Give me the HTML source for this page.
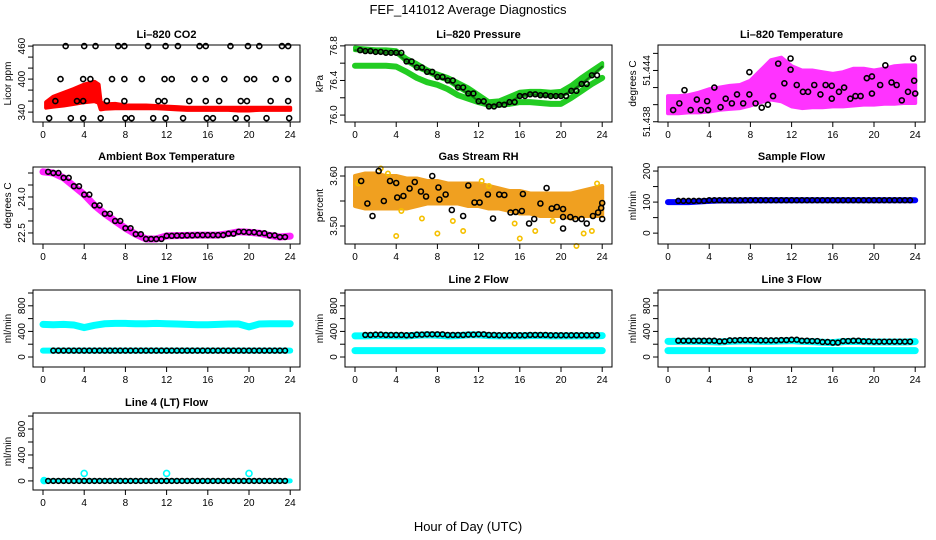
<!DOCTYPE html>
<html><head><meta charset="utf-8">
<style>
html,body{margin:0;padding:0;background:#fff;}
svg{display:block;font-family:"Liberation Sans",sans-serif;}
</style></head>
<body>
<svg id="chart" width="936" height="540" viewBox="0 0 936 540" xmlns="http://www.w3.org/2000/svg">
<text x="468" y="14" text-anchor="middle" font-size="13">FEF_141012  Average Diagnostics</text>
<text x="468" y="531" text-anchor="middle" font-size="13">Hour of Day (UTC)</text>
</svg>
<script>
// ---------- data ----------
const hours = [0,1,2,3,4,5,6,7,8,9,10,11,12,13,14,15,16,17,18,19,20,21,22,23,24];
const xTicks = [0,4,8,12,16,20,24];

// CO2
const co2RedHours = [0.3,1,2,3,4,5,5.4,5.6,6,7,8,9,10,11,12,13,14,15,16,17,18,19,20,21,22,23,24];
const co2RedLo = [348,350,352,355,358,360,357,345,346,347,347,347,347,347,346,345,344,344,344,344,344,343,343,344,344,344,344];
const co2RedHi = [358,368,375,382,390,395,390,358,354,355,352,352,352,351,350,349,348,348,348,348,348,348,348,348,348,348,348];
const co2BlackHours = [2.2,4.0,5.1,7.3,7.9,10.2,11.9,13.1,15.2,15.8,18.2,19.9,21.0,23.2,23.8,
  1.7,3.9,4.6,6.7,7.9,9.6,11.8,12.5,14.7,15.8,17.6,19.8,20.5,22.6,23.8,
  1.2,3.3,3.9,6.2,7.9,11.2,11.8,14.2,15.8,17.1,19.2,19.8,22.1,23.8,
  0.6,2.7,3.9,5.6,8.0,8.6,10.7,11.9,13.6,15.9,16.5,18.7,19.8,21.7,23.9];
const co2BlackVals = [460,460,460,460,460,460,460,460,460,460,460,460,460,460,460,
  400,400,400,400,400,400,400,400,400,400,400,400,400,400,400,
  360,360,360,360,360,360,360,360,360,360,360,360,360,360,
  329,329,329,329,329,329,329,329,329,329,329,329,329,329,329];

// Pressure
const pressHi = [76.78,76.77,76.76,76.76,76.75,76.66,76.6,76.53,76.48,76.44,76.38,76.32,76.24,76.16,76.17,76.22,76.27,76.28,76.28,76.27,76.28,76.35,76.44,76.52,76.6];
const pressLo = [76.57,76.57,76.57,76.57,76.56,76.5,76.43,76.38,76.35,76.3,76.23,76.19,76.15,76.12,76.12,76.13,76.15,76.15,76.14,76.13,76.13,76.2,76.28,76.36,76.43];
const pressBlack = [76.75,76.74,76.73,76.72,76.72,76.62,76.55,76.5,76.44,76.4,76.32,76.25,76.16,76.1,76.12,76.15,76.22,76.24,76.23,76.22,76.22,76.28,76.36,76.46,76.56];

// Li-820 temperature
const tempLo = [51.4390,51.4390,51.4391,51.4391,51.4392,51.4394,51.4395,51.4396,51.4399,51.4403,51.4406,51.4404,51.4398,51.4396,51.4397,51.4397,51.4398,51.4398,51.4399,51.4400,51.4400,51.4401,51.4401,51.4402,51.4402];
const tempHi = [51.4410,51.4410,51.4411,51.4414,51.4418,51.4420,51.4422,51.4423,51.4428,51.4440,51.4452,51.4455,51.4445,51.4440,51.4440,51.4438,51.4436,51.4438,51.4442,51.4442,51.4440,51.4442,51.4445,51.4446,51.4446];
const tempBlackHours = [0.5,1.1,1.6,2.2,2.8,3.2,3.8,3.9,4.5,5.1,5.6,6.2,6.7,7.3,7.9,7.9,8.5,9.1,9.7,10.2,10.7,11.3,11.9,11.9,12.5,13.1,13.6,14.2,14.8,15.3,15.9,15.9,16.6,17.1,17.7,18.2,18.7,19.3,19.8,19.8,20.6,21.1,21.7,22.2,22.7,23.3,23.8,23.9,24];
const tempBlackVals = [51.43937,51.44015,51.4417,51.43937,51.4406,51.43937,51.4404,51.43937,51.4420,51.4397,51.4407,51.44015,51.4412,51.44015,51.4438,51.4412,51.44015,51.43965,51.4400,51.4410,51.4448,51.4425,51.4454,51.4441,51.4423,51.4415,51.4415,51.4423,51.4412,51.4423,51.4422,51.4407,51.4415,51.4420,51.4407,51.4410,51.4410,51.4431,51.4433,51.4413,51.4423,51.4446,51.4426,51.4423,51.4405,51.4415,51.4454,51.4428,51.4413];

// Ambient box temperature
const ambBand = [25.05,25.0,24.8,24.45,24.1,23.65,23.3,23.0,22.7,22.45,22.25,22.25,22.38,22.39,22.4,22.41,22.41,22.41,22.47,22.55,22.53,22.49,22.4,22.33,22.37];

// Gas stream RH
const rhLo = [3.54,3.535,3.535,3.535,3.535,3.535,3.54,3.545,3.545,3.545,3.545,3.54,3.54,3.535,3.535,3.53,3.525,3.525,3.52,3.52,3.52,3.515,3.52,3.52,3.52];
const rhHi = [3.60,3.605,3.605,3.60,3.60,3.595,3.595,3.59,3.59,3.585,3.585,3.585,3.585,3.58,3.575,3.57,3.57,3.565,3.565,3.565,3.565,3.565,3.57,3.575,3.58];
const rhOutHours = [0.3,2.5,3.2,4.0,4.5,6.5,8.0,9.5,10.5,12.3,13.0,15.5,16.0,17.5,19.2,21.5,22.2,23.0,23.5];
const rhOutVals = [3.585,3.615,3.605,3.48,3.53,3.515,3.485,3.51,3.49,3.59,3.58,3.505,3.475,3.49,3.51,3.46,3.485,3.49,3.585];
const rhBlackHours = [0.6,1.2,1.7,2.3,2.8,3.4,4.0,4.1,4.7,5.3,5.8,6.4,6.9,7.5,8.1,8.2,8.8,9.4,10.5,11.0,11.6,12.1,12.9,13.4,14.0,14.5,15.1,15.6,16.2,16.3,16.9,17.4,18.0,18.6,19.1,19.6,20.2,20.2,20.2,20.9,21.4,22.0,22.5,23.1,23.6,24,24,23.9];
const rhBlackVals = [3.59,3.545,3.52,3.61,3.55,3.59,3.586,3.557,3.56,3.575,3.588,3.569,3.559,3.60,3.577,3.553,3.563,3.532,3.52,3.581,3.547,3.547,3.563,3.515,3.563,3.562,3.527,3.528,3.53,3.564,3.505,3.514,3.545,3.576,3.535,3.538,3.534,3.518,3.495,3.518,3.514,3.514,3.505,3.52,3.527,3.546,3.514,3.536];

// Sample flow
const sampleBlue = [100,100,100,102,104,105,105,105,106,106,106,106,106,106,106,106,106,106,106,106,106,106,106,106,106];
const sampleBlack = [104,104,104,104,106,106,106,106,106,106,106,106,106,106,106,106,106,106,106,106,106,106,106,106,106];

// Line flows
const line1Hi = [510,505,510,500,460,495,520,525,525,520,520,525,520,515,510,505,505,510,515,515,470,515,520,520,520];
const line1Lo = [100,100,100,100,100,100,100,100,100,100,100,100,100,100,100,100,100,100,100,100,100,100,100,100,100];
const line1Black = [100,100,100,100,100,100,100,100,100,100,100,100,100,100,100,100,100,100,100,100,100,100,100,100,100];
const line2Cyan = [330,330,335,335,330,330,340,345,340,330,335,345,345,335,330,330,330,335,335,330,330,330,330,330,335];
const line2Lo = [100,100,100,100,100,100,100,100,100,100,100,100,100,100,100,100,100,100,100,100,100,100,100,100,100];
const line2Black = [340,345,350,345,345,340,350,355,355,345,345,350,355,345,340,340,340,345,345,340,340,340,340,340,345];
const line3Cyan = [245,245,245,245,240,235,245,250,250,245,245,250,255,245,240,230,225,240,245,240,235,235,235,235,240];
const line3Lo = [100,100,100,100,100,100,100,100,100,100,100,100,100,100,100,100,100,100,100,100,100,100,100,100,100];
const line3Black = [255,255,255,255,255,245,260,265,265,260,260,265,270,255,250,235,225,250,255,245,240,240,240,240,250];
const line4Cyan = [0,0,0,0,0,0,0,0,0,0,0,0,0,0,0,0,0,0,0,0,0,0,0,0,0];
const line4Black = [0,0,0,0,0,0,0,0,0,0,0,0,0,0,0,0,0,0,0,0,0,0,0,0,0];
const line4SpikeHours = [0.1,4,12,20];
const line4SpikeVals = [5,115,115,115];

// ---------- drawing ----------
const NS = 'http://www.w3.org/2000/svg';
const svg = document.getElementById('chart');
const colX0 = [43, 355, 668];
const rowTop = [45, 167, 290, 413];
const PXH = 10.3, BOXH = 77;

function mk(tag, parent){ const e = document.createElementNS(NS, tag); parent.appendChild(e); return e; }

function panel(name, col, row, title, ylab, ylim, yTicks, yLabels, fmt){
  const g = mk('g', svg);
  
  
  const x0 = colX0[col], top = rowTop[row], bot = top + BOXH;
  const left = x0 - 10, right = x0 + 257;
  const sx = h => x0 + h * PXH;
  const sy = v => bot - (v - ylim[0]) / (ylim[1] - ylim[0]) * BOXH;
  const plot = mk('g', g);
  
  
  const box = mk('rect', g);
  
  
  box.setAttribute('x', left); box.setAttribute('y', top);
  box.setAttribute('width', right - left); box.setAttribute('height', BOXH);
  box.setAttribute('fill', 'none'); box.setAttribute('stroke', '#000'); box.setAttribute('stroke-width', '1');
  const t = mk('text', g);
  
  
  t.setAttribute('x', (left + right) / 2); t.setAttribute('y', top - 7);
  t.setAttribute('text-anchor', 'middle'); t.setAttribute('font-size', '11'); t.setAttribute('font-weight', 'bold');
  t.textContent = title;
  // x axis
  const xa = mk('g', g);
  
  
  xTicks.forEach(h => {
    const l = mk('line', xa);
    l.setAttribute('x1', sx(h)); l.setAttribute('x2', sx(h));
    l.setAttribute('y1', bot); l.setAttribute('y2', bot + 5); l.setAttribute('stroke', '#000');
    const tl = mk('text', xa);
    
    
    tl.setAttribute('x', sx(h)); tl.setAttribute('y', bot + 16);
    tl.setAttribute('text-anchor', 'middle'); tl.setAttribute('font-size', '10');
    tl.textContent = h;
  });
  // y axis
  const ya = mk('g', g);
  
  
  yTicks.forEach(v => {
    const l = mk('line', ya);
    l.setAttribute('x1', left); l.setAttribute('x2', left - 5);
    l.setAttribute('y1', sy(v)); l.setAttribute('y2', sy(v)); l.setAttribute('stroke', '#000');
  });
  yLabels.forEach(v => {
    const tl = mk('text', ya);
    
    
    const xx = left - 8, yy = sy(v);
    tl.setAttribute('transform', `translate(${xx},${yy}) rotate(-90)`);
    tl.setAttribute('text-anchor', 'middle'); tl.setAttribute('font-size', '10');
    tl.textContent = fmt(v);
  });
  const yt = mk('text', g);
  
  
  yt.setAttribute('transform', `translate(${left - 22},${(top + bot) / 2}) rotate(-90)`);
  yt.setAttribute('text-anchor', 'middle'); yt.setAttribute('font-size', '10');
  yt.textContent = ylab;
  return {plot, sx, sy};
}

function band(p, hs, lo, hi, color, nm, op){
  const e = mk('polygon', p.plot);
  
  
  const pts = hs.map((h, i) => p.sx(h) + ',' + p.sy(hi[i]));
  for (let i = hs.length - 1; i >= 0; i--) pts.push(p.sx(hs[i]) + ',' + p.sy(lo[i]));
  e.setAttribute('points', pts.join(' '));
  e.setAttribute('fill', color); e.setAttribute('stroke', color); e.setAttribute('stroke-width', '4');
  e.setAttribute('stroke-linejoin', 'round');
  if (op) e.setAttribute('opacity', op);
}
function thick(p, hs, vals, color, w, nm){
  const e = mk('polyline', p.plot);
  
  
  e.setAttribute('points', hs.map((h, i) => p.sx(h) + ',' + p.sy(vals[i])).join(' '));
  e.setAttribute('fill', 'none'); e.setAttribute('stroke', color); e.setAttribute('stroke-width', w);
  e.setAttribute('stroke-linejoin', 'round'); e.setAttribute('stroke-linecap', 'round');
}
function pts(p, hs, vals, color, nm, r){
  hs.forEach((h, i) => {
    const c = mk('circle', p.plot);
    
    
    c.setAttribute('cx', p.sx(h)); c.setAttribute('cy', p.sy(vals[i]));
    c.setAttribute('r', r || 2.5); c.setAttribute('fill', 'none');
    c.setAttribute('stroke', color); c.setAttribute('stroke-width', '1.6');
  });
}
// half-hourly black markers from hourly arrays
function halfPts(p, vals, color, nm, start){
  const hs = [], vs = [];
  for (let h = start; h <= 23.95; h += 0.5) { hs.push(h); vs.push(vals[Math.floor(h)]); }
  pts(p, hs, vs, color, nm, 2.4);
}
const f0 = v => String(v), f1 = v => v.toFixed(1), f2 = v => v.toFixed(2), f3 = v => v.toFixed(3);

// CO2
let p = panel('co2-panel', 0, 0, 'Li\u2013820 CO2', 'Licor ppm', [322, 462], [340,360,380,400,420,440,460], [340,400,460], f0);
band(p, co2RedHours, co2RedLo, co2RedHi, '#ff0000', 'co2-red-series');
pts(p, co2BlackHours, co2BlackVals, '#000', 'co2-black-point');

// Pressure
p = panel('pressure-panel', 1, 0, 'Li\u2013820 Pressure', 'kPa', [75.92, 76.81], [76.0,76.2,76.4,76.6,76.8], [76.0,76.4,76.8], f1);
thick(p, hours, pressLo, '#22cc22', 6, 'pressure-green-low');
band(p, hours, pressBlack, pressHi, '#22cc22', 'pressure-green-high');
thick(p, hours, pressBlack, '#117711', 2, 'pressure-green-dark');
halfPts(p, pressBlack, '#000', 'pressure-black-point', 0.5);

// Li temperature
p = panel('li-temp-panel', 2, 0, 'Li\u2013820 Temperature', 'degrees C', [51.43797, 51.44698], [51.438,51.440,51.442,51.444,51.446], [51.438,51.444], f3);
band(p, hours, tempLo, tempHi, '#ff33ff', 'li-temp-magenta-series');
pts(p, tempBlackHours, tempBlackVals, '#000', 'li-temp-black-point');

// Ambient
p = panel('ambient-panel', 0, 1, 'Ambient Box Temperature', 'degrees C', [22.04, 25.25], [22.5,23.0,23.5,24.0,24.5,25.0], [22.5,24.0], f1);
thick(p, hours, ambBand, '#ff22ff', 7, 'ambient-magenta-series');
halfPts(p, ambBand, '#000', 'ambient-black-point', 0.5);

// RH
p = panel('rh-panel', 1, 1, 'Gas Stream RH', 'percent', [3.464, 3.618], [3.50,3.55,3.60], [3.50,3.60], f2);
band(p, hours, rhLo, rhHi, '#f0a020', 'rh-orange-series');
band(p, hours, rhLo, rhHi, 'none', 'rh-yellow-outline');
pts(p, rhOutHours, rhOutVals, '#f5c000', 'rh-outlier-point', 2.2);
pts(p, rhBlackHours, rhBlackVals, '#000', 'rh-black-point');

// Sample flow
p = panel('sample-flow-panel', 2, 1, 'Sample Flow', 'ml/min', [-35, 213], [0,50,100,150,200], [0,100,200], f0);
thick(p, hours, sampleBlue, '#0000ff', 6, 'sample-flow-blue-series');
halfPts(p, sampleBlack, '#000', 'sample-flow-black-point', 1.0);

const flowTicks = [0,200,400,600,800,1000], flowLabels = [0,400,800];
// Line 1
p = panel('line1-panel', 0, 2, 'Line 1 Flow', 'ml/min', [-156, 1047], flowTicks, flowLabels, f0);
thick(p, hours, line1Hi, '#00ffff', 7, 'line1-cyan-high');
thick(p, hours, line1Lo, '#00ffff', 6, 'line1-cyan-low');
halfPts(p, line1Black, '#000', 'line1-black-point', 1.0);
// Line 2
p = panel('line2-panel', 1, 2, 'Line 2 Flow', 'ml/min', [-156, 1047], flowTicks, flowLabels, f0);
thick(p, hours, line2Cyan, '#00ffff', 7, 'line2-cyan-high');
thick(p, hours, line2Lo, '#00ffff', 7, 'line2-cyan-low');
halfPts(p, line2Black, '#000', 'line2-black-point', 1.0);
// Line 3
p = panel('line3-panel', 2, 2, 'Line 3 Flow', 'ml/min', [-156, 1047], flowTicks, flowLabels, f0);
thick(p, hours, line3Cyan, '#00ffff', 7, 'line3-cyan-high');
thick(p, hours, line3Lo, '#00ffff', 7, 'line3-cyan-low');
halfPts(p, line3Black, '#000', 'line3-black-point', 1.0);
// Line 4
p = panel('line4-panel', 0, 3, 'Line 4 (LT) Flow', 'ml/min', [-140, 1047], flowTicks, flowLabels, f0);
thick(p, hours, line4Cyan, '#00ffff', 5, 'line4-cyan-series');
pts(p, line4SpikeHours, line4SpikeVals, '#00ffff', 'line4-cyan-point', 3);
halfPts(p, line4Black, '#000', 'line4-black-point', 0.5);
</script>
</body></html>
